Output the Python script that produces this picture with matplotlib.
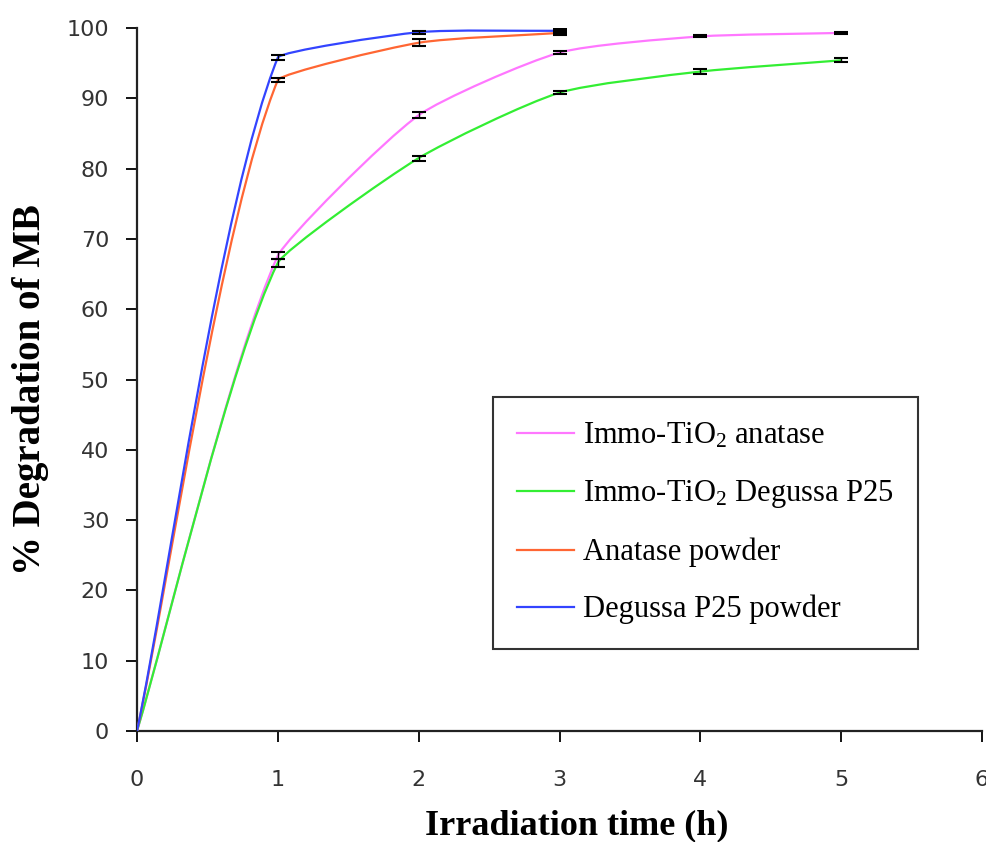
import numpy as np
import matplotlib
matplotlib.use("Agg")
import matplotlib.pyplot as plt
from matplotlib.path import Path
from matplotlib.patches import PathPatch
from matplotlib.lines import Line2D

plt.rcParams['mathtext.fontset'] = 'custom'
plt.rcParams['mathtext.rm'] = 'Liberation Serif'
plt.rcParams['mathtext.default'] = 'regular'

# data
time_long = [0, 1, 2, 3, 4, 5]
time_short = [0, 1, 2, 3]

immo_anatase = [0, 67.6, 87.6, 96.5, 98.8, 99.3]
immo_anatase_err = [0, 0.5, 0.4, 0.2, 0.15, 0.15]
immo_p25 = [0, 66.6, 81.5, 90.8, 93.8, 95.4]
immo_p25_err = [0, 0.6, 0.35, 0.2, 0.3, 0.3]
anatase_powder = [0, 92.6, 97.9, 99.3]
anatase_powder_err = [0, 0.3, 0.5, 0.25]
p25_powder = [0, 95.8, 99.4, 99.6]
p25_powder_err = [0, 0.3, 0.2, 0.25]

labels = ['Immo-TiO$_2$ anatase', 'Immo-TiO$_2$ Degussa P25',
          'Anatase powder', 'Degussa P25 powder']
colors = ['#FF77FF', '#33EE33', '#FF6633', '#3344FF']

X_SPAN, Y_SPAN = 6.0, 100.0
AX_W, AX_H = 845.0, 703.0


def smooth_path(x, y, k=0.22):
    # excel-like smoothing: bezier handles built in screen-like units,
    # tangent along neighbour chord, handle shortened next to a long segment
    sx, sy = AX_W / X_SPAN, AX_H / Y_SPAN
    pts = np.column_stack([np.asarray(x) * sx, np.asarray(y) * sy]).astype(float)
    n = len(pts)
    seg = [np.hypot(*(pts[i + 1] - pts[i])) for i in range(n - 1)]
    tang = []
    for i in range(n):
        d = pts[min(i + 1, n - 1)] - pts[max(i - 1, 0)]
        tang.append(d / np.hypot(*d))

    def handle(i, j):
        # handle at point i for segment j
        other = [seg[m] for m in (i - 1, i) if 0 <= m < n - 1 and m != j]
        f = min(1.0, seg[j] / other[0]) if other else 1.0
        return k * seg[j] * f

    verts = [pts[0]]
    codes = [Path.MOVETO]
    for j in range(n - 1):
        verts += [pts[j] + tang[j] * handle(j, j),
                  pts[j + 1] - tang[j + 1] * handle(j + 1, j),
                  pts[j + 1]]
        codes += [Path.CURVE4] * 3
    verts = np.array(verts) / [sx, sy]
    return Path(verts, codes)


fig = plt.figure(figsize=(9.87, 8.42), dpi=100)
ax = fig.add_axes([137 / 987, 111 / 842, AX_W / 987, AX_H / 842])

series = [
    (time_long, immo_anatase, immo_anatase_err),
    (time_long, immo_p25, immo_p25_err),
    (time_short, anatase_powder, anatase_powder_err),
    (time_short, p25_powder, p25_powder_err),
]
for (x, y, e), c in zip(series, colors):
    ax.add_patch(PathPatch(smooth_path(x, y), facecolor='none', edgecolor=c,
                           lw=1.6, zorder=3))
    ax.errorbar(x[1:], y[1:], yerr=e[1:], fmt='none', ecolor='black',
                elinewidth=1.0, capsize=4.8, capthick=1.5, zorder=4)

ax.set_xlim(0, X_SPAN)
ax.set_ylim(0, Y_SPAN)
ax.set_xticks(range(0, 7))
ax.set_yticks(range(0, 101, 10))
for s in ['top', 'right']:
    ax.spines[s].set_visible(False)
for s in ['left', 'bottom']:
    ax.spines[s].set_linewidth(1.6)
    ax.spines[s].set_color('#222222')
ax.tick_params(axis='y', direction='out', length=8, width=1.3, pad=12,
               labelsize=16, labelcolor='#333333')
ax.tick_params(axis='x', direction='out', length=8, width=1.3, pad=20,
               labelsize=16, labelcolor='#333333')

fig.text(31 / 987, 1 - 390 / 842, '% Degradation of MB', rotation=90,
         ha='center', va='center', fontsize=28, fontweight='bold',
         family='Liberation Serif')
fig.text(577 / 987, 1 - 826 / 842, 'Irradiation time (h)',
         ha='center', va='center', fontsize=26, fontweight='bold',
         family='Liberation Serif')

handles = [Line2D([], [], color=c, lw=1.6) for c in colors]
leg = ax.legend(handles, labels, loc='upper left',
                bbox_to_anchor=(356 / AX_W, 334 / AX_H),
                prop={'family': 'Liberation Serif', 'size': 22},
                frameon=True, fancybox=False, shadow=False,
                handlelength=1.85, handletextpad=0.3, labelspacing=0.9,
                borderpad=0.8, borderaxespad=0)
leg.get_frame().set_edgecolor('black')
leg.get_frame().set_linewidth(1.5)

fig.savefig('out.png', dpi=100)
